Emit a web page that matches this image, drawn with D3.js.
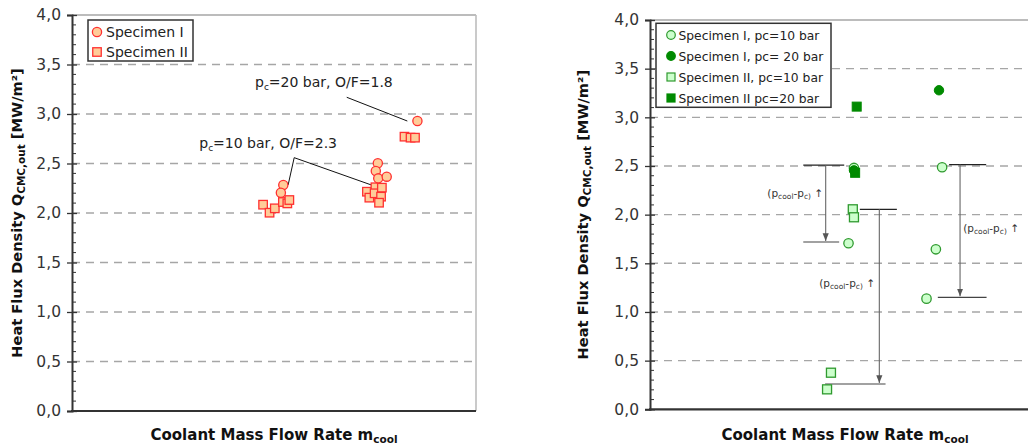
<!DOCTYPE html>
<html>
<head>
<meta charset="utf-8">
<script src="https://cdn.jsdelivr.net/npm/d3@7"></script>
<style>
  html, body { margin: 0; padding: 0; background: #fff; }
  svg { display: block; font-family: "DejaVu Sans", Verdana, sans-serif; }
</style>
</head>
<body>
<svg id="chart" width="1028" height="446"></svg>
<script>
// ---- data (x is a relative coolant mass flow position, 0..100) ----
const yTickValues = [0, 0.5, 1.0, 1.5, 2.0, 2.5, 3.0, 3.5, 4.0];
const yTickLabels = ["0,0", "0,5", "1,0", "1,5", "2,0", "2,5", "3,0", "3,5", "4,0"];

// Left panel: Specimen I (circles) and Specimen II (squares)
const leftSpec1X = [52.3, 51.7, 75.7, 75.2, 75.8, 77.9, 85.5];
const leftSpec1Y = [2.283, 2.205, 2.502, 2.424, 2.35, 2.367, 2.929];
const leftSpec2X = [47.3, 48.9, 50.2, 52.2, 53.3, 53.8, 73.0, 73.6, 75.1, 74.9, 76.7, 76.5, 76.0, 82.3, 83.8, 84.9];
const leftSpec2Y = [2.084, 2.003, 2.047, 2.111, 2.097, 2.131, 2.215, 2.155, 2.26, 2.199, 2.256, 2.165, 2.104, 2.771, 2.761, 2.761];

// Right panel: four series
const s1p10X = [52.3, 50.9, 74.9, 73.3, 70.9];
const s1p10Y = [2.48, 1.706, 2.487, 1.644, 1.137];
const s1p20X = [74.1, 52.3];
const s1p20Y = [3.278, 2.455];
const s2p10X = [52.0, 52.3, 46.4, 45.4];
const s2p10Y = [2.055, 1.973, 0.376, 0.205];
const s2p20X = [53.0, 52.6];
const s2p20Y = [3.11, 2.43];

const svg = d3.select("#chart");

const RED = "#ff3030", PEACH = "#ffcc99";
const DKGREEN = "#008a00", LTGREEN = "#ccffcc", MIDGREEN = "#2f9a2f";

function zip(xs, ys) { return xs.map((x, i) => ({ x, y: ys[i] })); }

function panel(opts) {
  const { left, right, top, bottom } = opts;
  const x = d3.scaleLinear().domain([0, 100]).range([left, right]);
  const y = d3.scaleLinear().domain([0, 4]).range([bottom, top]);
  const g = svg.append("g");

  // dashed grid
  g.append("g").selectAll("line").data(yTickValues.filter(v => v > 0 && v < 4)).join("line")
    .attr("x1", left).attr("x2", right)
    .attr("y1", d => y(d)).attr("y2", d => y(d))
    .attr("stroke", "#a6a6a6").attr("stroke-width", 1.4)
    .attr("stroke-dasharray", "8,6");

  // top and right frame
  g.append("line").attr("x1", left).attr("x2", right).attr("y1", y(4)).attr("y2", y(4))
    .attr("stroke", "#a6a6a6").attr("stroke-width", 1.4);
  g.append("line").attr("x1", right).attr("x2", right).attr("y1", y(4)).attr("y2", y(0))
    .attr("stroke", "#bdbdbd").attr("stroke-width", 1.6);

  // y axis with minor ticks
  const minor = d3.range(0, 40).map(i => i / 10).filter(v => Math.round(v * 10) % 5 !== 0);
  g.append("g").selectAll("line").data(minor).join("line")
    .attr("x1", left).attr("x2", left + 4)
    .attr("y1", d => y(d)).attr("y2", d => y(d))
    .attr("stroke", "#333").attr("stroke-width", 1);

  const yAxis = d3.axisLeft(y).tickValues(yTickValues)
    .tickFormat((d, i) => yTickLabels[i]).tickSize(5).tickPadding(6);
  const ya = g.append("g").attr("transform", `translate(${left},0)`).call(yAxis);
  ya.select(".domain").attr("stroke", "#333").attr("stroke-width", 2);
  ya.selectAll(".tick line").attr("x1", 5).attr("stroke", "#333").attr("stroke-width", 1.3);
  ya.selectAll(".tick text").attr("font-size", 15.5).attr("fill", "#333")
    .attr("font-family", "DejaVu Sans, Verdana, sans-serif");

  // x axis line (no ticks)
  g.append("line").attr("x1", left - 1).attr("x2", right).attr("y1", y(0)).attr("y2", y(0))
    .attr("stroke", "#333").attr("stroke-width", 2.2);

  // axis titles
  const xt = g.append("text").attr("x", opts.xTitleX).attr("y", opts.xTitleY)
    .attr("text-anchor", "middle").attr("font-weight", "bold").attr("font-size", 15).attr("fill", "#111");
  xt.append("tspan").text("Coolant Mass Flow Rate m");
  xt.append("tspan").attr("font-size", 10.5).attr("dy", 3).text("cool");

  const yt = g.append("text")
    .attr("transform", `translate(${opts.yTitleX},${(top + bottom) / 2}) rotate(-90)`)
    .attr("text-anchor", "middle").attr("font-weight", "bold").attr("font-size", 14.6).attr("fill", "#111");
  yt.append("tspan").text("Heat Flux Density Q");
  yt.append("tspan").attr("font-size", 10.5).attr("dy", 3).text("CMC,out");
  yt.append("tspan").attr("dy", -3).text(" [MW/m²]");

  return { g, x, y };
}

function circles(g, x, y, data, fill, stroke, r, sw) {
  g.append("g").selectAll("circle").data(data).join("circle")
    .attr("cx", d => x(d.x)).attr("cy", d => y(d.y)).attr("r", r)
    .attr("fill", fill).attr("stroke", stroke).attr("stroke-width", sw);
}
function squares(g, x, y, data, fill, stroke, s, sw) {
  g.append("g").selectAll("rect").data(data).join("rect")
    .attr("x", d => x(d.x) - s / 2).attr("y", d => y(d.y) - s / 2)
    .attr("width", s).attr("height", s)
    .attr("fill", fill).attr("stroke", stroke).attr("stroke-width", sw);
}

// ================= Left panel =================
const L = panel({ left: 72, right: 476, top: 15, bottom: 411, xTitleX: 274, xTitleY: 440, yTitleX: 22 });

// leader lines and labels
const leader = d3.line().x(d => L.x(d[0])).y(d => L.y(d[1]));
L.g.append("path").attr("d", leader([[68.0, 3.169], [83.0, 2.929]]))
  .attr("fill", "none").attr("stroke", "#111").attr("stroke-width", 1);
L.g.append("path").attr("d", leader([[53.5, 2.283], [55.0, 2.559], [74.8, 2.273]]))
  .attr("fill", "none").attr("stroke", "#111").attr("stroke-width", 1);

function pcLabel(g, px, py, rest) {
  const t = g.append("text").attr("x", px).attr("y", py).attr("font-size", 14).attr("fill", "#222");
  t.append("tspan").text("p");
  t.append("tspan").attr("font-size", 9).attr("dy", 3).text("c");
  t.append("tspan").attr("dy", -3).text(rest);
}
pcLabel(L.g, L.x(45.3), L.y(3.27), "=20 bar, O/F=1.8");
pcLabel(L.g, L.x(31.5), L.y(2.657), "=10 bar, O/F=2.3");

squares(L.g, L.x, L.y, zip(leftSpec2X, leftSpec2Y), PEACH, RED, 8.5, 1.3);
circles(L.g, L.x, L.y, zip(leftSpec1X, leftSpec1Y), PEACH, RED, 4.6, 1.3);

// legend
const lg = L.g.append("g");
lg.append("rect").attr("x", 88).attr("y", 20).attr("width", 105).attr("height", 41)
  .attr("fill", "#fff").attr("stroke", "#333").attr("stroke-width", 1.5);
lg.append("circle").attr("cx", 97).attr("cy", 32).attr("r", 4.6).attr("fill", PEACH).attr("stroke", RED).attr("stroke-width", 1.3);
lg.append("rect").attr("x", 92.75).attr("y", 47.75).attr("width", 8.5).attr("height", 8.5).attr("fill", PEACH).attr("stroke", RED).attr("stroke-width", 1.3);
lg.append("text").attr("x", 106).attr("y", 37).attr("font-size", 14).attr("fill", "#222").text("Specimen I");
lg.append("text").attr("x", 106).attr("y", 57).attr("font-size", 14).attr("fill", "#222").text("Specimen II");

// ================= Right panel =================
const R = panel({ left: 650, right: 1040, top: 20, bottom: 409.3, xTitleX: 845, xTitleY: 440, yTitleX: 588 });

// pressure-difference arrows
const arrows = [
  { topY: 2.508, topX0: 39.3, topX1: 49.8, vx: 45.05, botY: 1.719, botX0: 39.3, botX1: 48.5 },
  { topY: 2.055, topX0: 53.8, topX1: 63.3, vx: 58.8, botY: 0.26, botX0: 44.9, botX1: 60.4 },
  { topY: 2.514, topX0: 76.7, topX1: 86.2, vx: 79.5, botY: 1.151, botX0: 73.8, botX1: 86.3 }
];
svg.append("defs").append("marker").attr("id", "arr")
  .attr("viewBox", "0 0 10 10").attr("refX", 10).attr("refY", 5)
  .attr("markerWidth", 7).attr("markerHeight", 7).attr("orient", "auto")
  .append("path").attr("d", "M0,1 L10,5 L0,9 Z").attr("fill", "#555");

arrows.forEach(a => {
  R.g.append("line").attr("x1", R.x(a.topX0)).attr("x2", R.x(a.topX1))
    .attr("y1", R.y(a.topY)).attr("y2", R.y(a.topY)).attr("stroke", "#222").attr("stroke-width", 1.2);
  R.g.append("line").attr("x1", R.x(a.botX0)).attr("x2", R.x(a.botX1))
    .attr("y1", R.y(a.botY)).attr("y2", R.y(a.botY)).attr("stroke", "#444").attr("stroke-width", 1.2);
  R.g.append("line").attr("x1", R.x(a.vx)).attr("x2", R.x(a.vx))
    .attr("y1", R.y(a.topY)).attr("y2", R.y(a.botY) - 1)
    .attr("stroke", "#666").attr("stroke-width", 1.1).attr("marker-end", "url(#arr)");
});

function dpLabel(g, px, py, anchor) {
  const t = g.append("text").attr("x", px).attr("y", py).attr("font-size", 10.5)
    .attr("fill", "#333").attr("text-anchor", anchor);
  t.append("tspan").text("(p");
  t.append("tspan").attr("font-size", 7.5).attr("dy", 2).text("cool");
  t.append("tspan").attr("dy", -2).text("-p");
  t.append("tspan").attr("font-size", 7.5).attr("dy", 2).text("c)");
  t.append("tspan").attr("dy", -2).text(" \u2191");
}
dpLabel(R.g, R.x(44.4), R.y(2.226) + 4, "end");
dpLabel(R.g, R.x(57.7), R.y(1.295) + 4, "end");
dpLabel(R.g, R.x(80.3), R.y(1.86) + 4, "start");

squares(R.g, R.x, R.y, zip(s2p10X, s2p10Y), LTGREEN, MIDGREEN, 9, 1.3);
circles(R.g, R.x, R.y, zip(s1p10X, s1p10Y), LTGREEN, MIDGREEN, 4.7, 1.3);
squares(R.g, R.x, R.y, zip(s2p20X, s2p20Y), DKGREEN, DKGREEN, 9, 1);
circles(R.g, R.x, R.y, zip(s1p20X, s1p20Y), DKGREEN, DKGREEN, 4.7, 1);

// legend
const rg = R.g.append("g");
rg.append("rect").attr("x", 656).attr("y", 23.3).attr("width", 175).attr("height", 84)
  .attr("fill", "#fff").attr("stroke", "#333").attr("stroke-width", 1.5);
const legendItems = [
  { label: "Specimen I, pc=10 bar", shape: "c", fill: LTGREEN, stroke: MIDGREEN },
  { label: "Specimen I, pc= 20 bar", shape: "c", fill: DKGREEN, stroke: DKGREEN },
  { label: "Specimen II, pc=10 bar", shape: "s", fill: LTGREEN, stroke: MIDGREEN },
  { label: "Specimen II pc=20 bar", shape: "s", fill: DKGREEN, stroke: DKGREEN }
];
legendItems.forEach((d, i) => {
  const cy = 35 + i * 21;
  if (d.shape === "c") {
    rg.append("circle").attr("cx", 671).attr("cy", cy).attr("r", 4.3)
      .attr("fill", d.fill).attr("stroke", d.stroke).attr("stroke-width", 1.2);
  } else {
    rg.append("rect").attr("x", 667).attr("y", cy - 4).attr("width", 8).attr("height", 8)
      .attr("fill", d.fill).attr("stroke", d.stroke).attr("stroke-width", 1.2);
  }
  rg.append("text").attr("x", 678.5).attr("y", cy + 4.5).attr("font-size", 12.3)
    .attr("fill", "#222").text(d.label);
});
</script>
</body>
</html>
